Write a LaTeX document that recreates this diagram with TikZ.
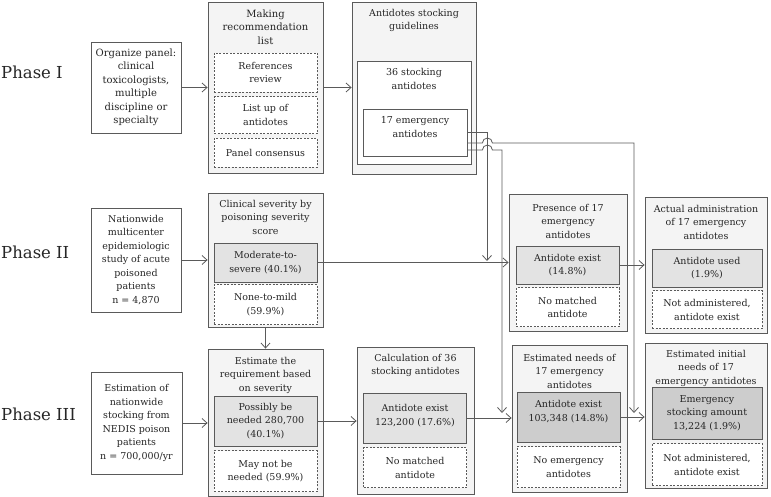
\documentclass[tikz,border=0pt]{standalone}
\usepackage{fontspec}
\setmainfont{DejaVu Serif}
\usepackage{tikz}
\usetikzlibrary{positioning, arrows.meta}

\definecolor{linegray}{HTML}{5A5A5A}
\definecolor{textgray}{HTML}{262626}
\definecolor{groupgray}{HTML}{F4F4F4}
\definecolor{hitgray}{HTML}{E3E3E3}
\definecolor{deepgray}{HTML}{CDCDCD}

\begin{document}
\begin{tikzpicture}[x=1pt, y=-1pt]
    % Define styles
    \tikzset{
        every node/.style={font=\fontsize{9.5}{13.5}\selectfont, text=textgray},
        phase/.style={font=\fontsize{16.5}{18}\selectfont, inner sep=0pt},
        groupbox/.style={rectangle, draw=linegray, fill=groupgray, line width=0.8pt, inner sep=0pt},
        grouptitle/.style={align=center, inner sep=0pt},
        srcbox/.style={rectangle, draw=linegray, fill=white, align=center, line width=0.8pt, inner sep=0pt},
        hitbox/.style={rectangle, draw=linegray, fill=hitgray, align=center, line width=0.8pt, minimum width=103pt, inner sep=0pt},
        missbox/.style={rectangle, draw=linegray, dash pattern=on 2pt off 1.5pt, fill=white, align=center, line width=0.7pt, minimum width=103pt, inner sep=0pt},
        arrow/.style={-{Straight Barb[length=5pt, width=9pt]}, draw=linegray, line width=0.8pt}
    }
    \useasboundingbox (0,0) rectangle (771,497);

    % Phase labels
    \node[phase, anchor=west] (ph1) at (1,72) {Phase I};
    \node[phase, anchor=west] (ph2) at (1,252) {Phase II};
    \node[phase, anchor=west] (ph3) at (1,414) {Phase III};

    % Phase I
    \node[srcbox, minimum width=90pt, minimum height=91pt, font=\fontsize{10}{13.5}\selectfont] (org) at (136,87.5) {Organize panel:\\clinical\\toxicologists,\\multiple\\discipline or\\specialty};
    \node[groupbox, minimum width=115pt, minimum height=171pt] (mk) at (265.5,87.5) {};
    \node[grouptitle, font=\fontsize{10}{13.5}\selectfont] (mkT) at (265.5,27) {Making\\recommendation\\list};
    \node[missbox, minimum height=39pt] (refs) at (265.5,72.5) {References\\review};
    \node[missbox, minimum height=37pt, below=4pt of refs] (lst) {List up of\\antidotes};
    \node[missbox, minimum height=29pt, below=4pt of lst] (pc) {Panel consensus};

    \node[groupbox, minimum width=124pt, minimum height=172pt] (sg) at (414,88) {};
    \node[grouptitle] (sgT) at (414,20.5) {Antidotes stocking\\guidelines};
    \node[groupbox, fill=white, minimum width=114pt, minimum height=103pt] (s36) at (414,112.5) {};
    \node[grouptitle] (s36T) at (414,79) {36 stocking\\antidotes};
    \node[groupbox, fill=white, minimum width=104pt, minimum height=47pt] (s17) at (415,132.5) {};
    \node[grouptitle] (s17T) at (415,127) {17 emergency\\antidotes};

    % Phase II
    \node[srcbox, minimum width=90pt, minimum height=104pt] (nat) at (136,260) {Nationwide\\multicenter\\epidemiologic\\study of acute\\poisoned\\patients\\n = 4,870};
    \node[groupbox, minimum width=115pt, minimum height=134pt] (cs) at (265.5,260) {};
    \node[grouptitle] (csT) at (265.5,217) {Clinical severity by\\poisoning severity\\score};
    \node[hitbox, minimum height=39pt] (mod) at (265.5,262.5) {Moderate-to-\\severe (40.1\%)};
    \node[missbox, minimum height=40pt, below=2pt of mod] (none) {None-to-mild\\(59.9\%)};

    \node[groupbox, minimum width=118pt, minimum height=137pt] (pr) at (568,262.5) {};
    \node[grouptitle] (prT) at (568,221) {Presence of 17\\emergency\\antidotes};
    \node[hitbox, minimum height=38pt] (ae17) at (567.5,265) {Antidote exist\\(14.8\%)};
    \node[missbox, minimum height=39pt, below=3pt of ae17] (nm17) {No matched\\antidote};

    \node[groupbox, minimum width=122pt, minimum height=136pt] (aa) at (706,265) {};
    \node[grouptitle] (aaT) at (706,222) {Actual administration\\of 17 emergency\\antidotes};
    \node[hitbox, minimum width=110pt, minimum height=38pt] (au) at (707,268) {Antidote used\\(1.9\%)};
    \node[missbox, minimum width=110pt, minimum height=38pt, below=3pt of au] (na1) {Not administered,\\antidote exist};

    % Phase III
    \node[srcbox, minimum width=91pt, minimum height=102pt] (est) at (136.5,423) {Estimation of\\nationwide\\stocking from\\NEDIS poison\\patients\\n = 700,000/yr};
    \node[groupbox, minimum width=115pt, minimum height=147pt] (er) at (265.5,422.5) {};
    \node[grouptitle] (erT) at (265.5,375) {Estimate the\\requirement based\\on severity};
    \node[hitbox, minimum height=50pt] (pos) at (265.5,421) {Possibly be\\needed 280,700\\(40.1\%)};
    \node[missbox, minimum height=41pt, below=4pt of pos] (may) {May not be\\needed (59.9\%)};

    \node[groupbox, minimum width=117pt, minimum height=147pt] (calc) at (415.5,420.5) {};
    \node[grouptitle] (calcT) at (415.5,365.5) {Calculation of 36\\stocking antidotes};
    \node[hitbox, minimum height=50pt, text depth=6pt] (ae36) at (415,418) {Antidote exist\\123,200 (17.6\%)};
    \node[missbox, minimum height=40pt, below=4pt of ae36] (nm36) {No matched\\antidote};

    \node[groupbox, minimum width=115pt, minimum height=147pt] (en) at (569.5,418.5) {};
    \node[grouptitle] (enT) at (569.5,371) {Estimated needs of\\17 emergency\\antidotes};
    \node[hitbox, fill=deepgray, minimum height=50pt, text depth=12pt] (ae103) at (568.5,417) {Antidote exist\\103,348 (14.8\%)};
    \node[missbox, minimum height=41pt, below=4pt of ae103] (ne) {No emergency\\antidotes};

    \node[groupbox, minimum width=122pt, minimum height=145pt] (ei) at (706,415.5) {};
    \node[grouptitle] (eiT) at (706,368) {Estimated initial\\needs of 17\\emergency antidotes};
    \node[hitbox, fill=deepgray, minimum width=110pt, minimum height=52pt] (esa) at (707,413) {Emergency\\stocking amount\\13,224 (1.9\%)};
    \node[missbox, minimum width=110pt, minimum height=42pt, below=4pt of esa] (na2) {Not administered,\\antidote exist};

    % Ends of the lines from 17 emergency antidotes
    \coordinate (tipA) at (487,261);
    \coordinate (tipB) at (502,413);
    \coordinate (tipC) at (634,413);

    % Arrows between nodes
    \draw[arrow] (org) -- (mk);
    \draw[arrow] (mk.east) -- (mk.east -| sg.west);
    \draw[arrow] (nat) -- (cs);
    \draw[arrow] (cs) -- (er);
    \draw[arrow] (est.east) -- (est.east -| er.west);
    \draw[arrow] (mod) -- (pr);
    \draw[arrow] (ae17) -- (aa);
    \draw[arrow] (pos.east) -- (pos.east -| calc.west);
    \draw[arrow] (ae36.east) -- (ae36.east -| en.west);
    \draw[arrow] (ae103.east) -- (ae103.east -| ei.west);
    \draw[arrow] (s17.east) -| (tipA);
    \draw[arrow] ([yshift=-10.5pt]s17.east) -- ++(15,0) arc[start angle=180, end angle=0, radius=5pt] -| (tipC);
    \draw[arrow] ([yshift=-17.5pt]s17.east) -- ++(15,0) arc[start angle=180, end angle=0, radius=5pt] -| (tipB);

\end{tikzpicture}
\end{document}
